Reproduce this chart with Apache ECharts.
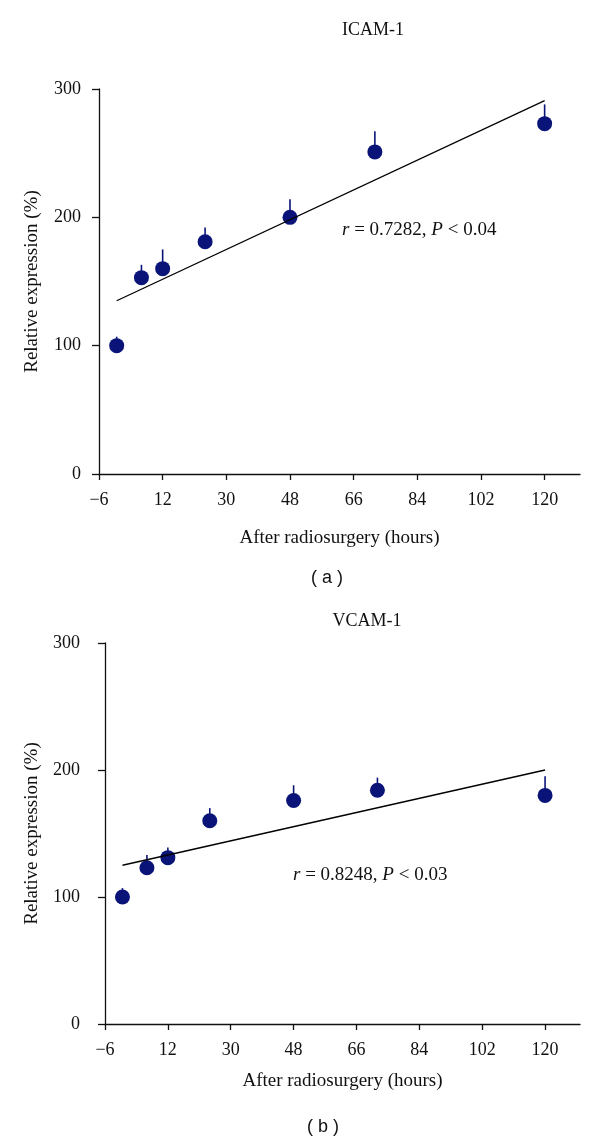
<!DOCTYPE html>
<html>
<head>
<meta charset="utf-8">
<script src="https://cdn.jsdelivr.net/npm/echarts@6/dist/echarts.min.js"></script>
<style>
html,body{margin:0;padding:0;background:#fff;}
#chart{width:600px;height:1144px;}
</style>
</head>
<body>
<div id="chart"></div>
<script>
// ---- data ----
const hours = [-1, 6, 12, 24, 48, 72, 120];
const icamMean = [100, 153, 160, 181, 200, 251, 273];
const icamErr = [7, 10, 15, 11, 14, 16, 15];
const vcamMean = [100, 123, 131, 160, 176, 184, 180];
const vcamErr = [7, 10, 8, 10, 12, 10, 15];
const icamFit = [[-1, 135], [120, 291]];
const vcamFit = [[-1, 125], [120, 200]];
const xTicks = [-6, 12, 30, 48, 66, 84, 102, 120];
const yTicks = [0, 100, 200, 300];
const titles = ['ICAM-1', 'VCAM-1'];
const panelLabels = ['( a )', '( b )'];
const stats = [['0.7282', '0.04'], ['0.8248', '0.03']];

const NAVY = '#0a1478';
const SERIF = '"Liberation Serif", "Times New Roman", serif';

const chart = echarts.init(document.getElementById('chart'), null, {renderer: 'canvas'});

function xAxisCfg(gi, nameGap) {
  return {
    gridIndex: gi, type: 'value', min: -6, max: 130,
    name: 'After radiosurgery (hours)', nameLocation: 'middle', nameGap: nameGap,
    nameTextStyle: {fontFamily: SERIF, fontSize: 19, color: '#111'},
    axisLine: {show: true, onZero: false, lineStyle: {color: '#111', width: 1.3}},
    axisTick: {show: true, inside: false, length: 6, lineStyle: {color: '#111', width: 1.3}, customValues: xTicks},
    axisLabel: {customValues: xTicks, margin: 17, fontFamily: SERIF, fontSize: 18, color: '#111',
      formatter: v => (v < 0 ? '\u2212' + Math.abs(v) : String(v))},
    splitLine: {show: false}
  };
}
function yAxisCfg(gi, nameGap, margin) {
  return {
    gridIndex: gi, type: 'value', min: 0, max: 300, interval: 100,
    name: 'Relative expression (%)', nameLocation: 'middle', nameGap: nameGap,
    nameTextStyle: {fontFamily: SERIF, fontSize: 19, color: '#111'},
    axisLine: {show: true, onZero: false, lineStyle: {color: '#111', width: 1.3}},
    axisTick: {show: true, inside: false, length: 7, lineStyle: {color: '#111', width: 1.3}, customValues: yTicks},
    axisLabel: {customValues: yTicks, margin: margin, fontFamily: SERIF, fontSize: 18, color: '#111'},
    splitLine: {show: false}
  };
}

function errSeries(gi, mean, err) {
  return {
    type: 'custom', xAxisIndex: gi, yAxisIndex: gi, z: 2,
    data: hours.map((h, i) => [h, mean[i], mean[i] + err[i]]),
    renderItem: function (params, api) {
      const p0 = api.coord([api.value(0), api.value(1)]);
      const p1 = api.coord([api.value(0), api.value(2)]);
      return {type: 'line', shape: {x1: p0[0], y1: p0[1], x2: p1[0], y2: p1[1]},
        style: {stroke: NAVY, lineWidth: 1.6}};
    }
  };
}
function pointSeries(gi, mean) {
  return {
    type: 'scatter', xAxisIndex: gi, yAxisIndex: gi, z: 3,
    symbol: 'circle', symbolSize: 15,
    itemStyle: {color: NAVY, opacity: 1},
    data: hours.map((h, i) => [h, mean[i]])
  };
}
function fitSeries(gi, fit) {
  return {
    type: 'line', xAxisIndex: gi, yAxisIndex: gi, z: 4,
    symbol: 'none', lineStyle: {color: '#000', width: 1.3},
    data: fit
  };
}
function statText(x, y, s) {
  return {
    type: 'text', x: x, y: y,
    style: {
      text: '{i|r} = ' + s[0] + ', {i|P} < ' + s[1],
      textVerticalAlign: 'middle',
      font: '19px ' + SERIF, fill: '#111',
      rich: {i: {fontStyle: 'italic', fontFamily: SERIF, fontSize: 19, fill: '#111', color: '#111'}}
    }
  };
}
function plainText(x, y, t, font) {
  return {type: 'text', x: x, y: y,
    style: {text: t, textAlign: 'center', textVerticalAlign: 'middle', font: font, fill: '#111'}};
}

const option = {
  animation: false,
  backgroundColor: '#fff',
  grid: [
    {left: 99, top: 89, width: 481, height: 385},
    {left: 105, top: 643, width: 475, height: 381}
  ],
  xAxis: [xAxisCfg(0, 55), xAxisCfg(1, 48)],
  yAxis: [yAxisCfg(0, 57, 18), yAxisCfg(1, 63, 25)],
  series: [
    errSeries(0, icamMean, icamErr), pointSeries(0, icamMean), fitSeries(0, icamFit),
    errSeries(1, vcamMean, vcamErr), pointSeries(1, vcamMean), fitSeries(1, vcamFit)
  ],
  graphic: [
    plainText(373, 30, titles[0], '18px ' + SERIF),
    plainText(367, 621, titles[1], '18px ' + SERIF),
    statText(342, 230, stats[0]),
    statText(293, 875, stats[1]),
    plainText(327, 578, panelLabels[0], '18px "Liberation Sans", Arial, sans-serif'),
    plainText(323, 1127, panelLabels[1], '18px "Liberation Sans", Arial, sans-serif')
  ]
};
chart.setOption(option);
</script>
</body>
</html>
